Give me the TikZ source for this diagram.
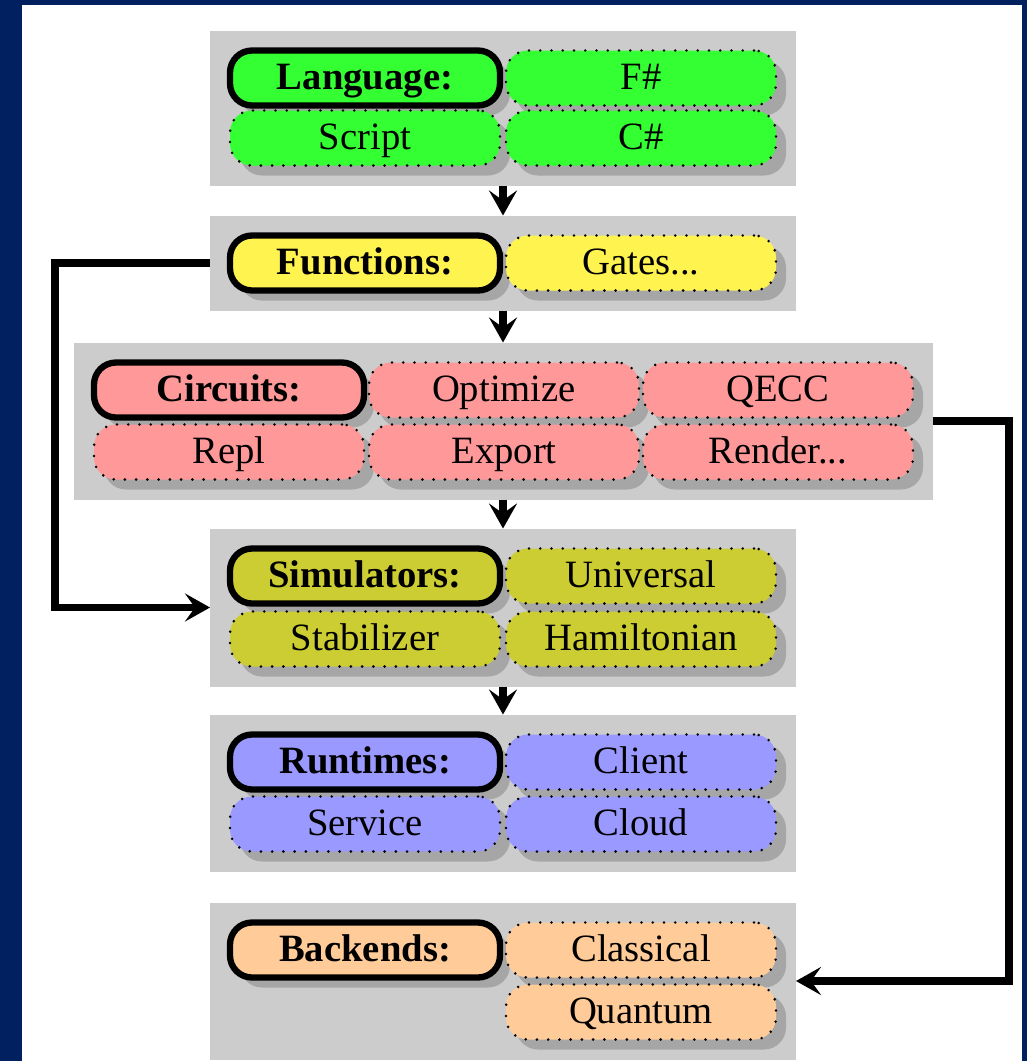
\documentclass[tikz,border=0pt]{standalone}
\usepackage{fontspec}
\setmainfont{Liberation Serif}
\usetikzlibrary{arrows.meta,shadows,fit,backgrounds}
\definecolor{slideblue}{RGB}{0,32,96}
\definecolor{langgreen}{RGB}{51,255,51}
\definecolor{funyellow}{RGB}{255,243,80}
\definecolor{circred}{RGB}{255,153,153}
\definecolor{simolive}{RGB}{204,204,51}
\definecolor{runblue}{RGB}{153,153,255}
\definecolor{backorange}{RGB}{255,204,153}
\begin{document}
\begin{tikzpicture}[x=0.1mm,y=-0.1mm,inner sep=0pt,outer sep=0pt,font=\fontsize{11}{13}\selectfont,
cell/.style={rectangle,rounded corners=2.2mm,minimum width=2.7cm,minimum height=0.55cm,
  text height=0.78em,text depth=0.12em,
  drop shadow={shadow xshift=1mm,shadow yshift=-1mm,fill=gray!70,opacity=1}},
headcell/.style={cell,draw,line width=1.8pt,font=\fontsize{11}{13}\selectfont\bfseries},
itemcell/.style={cell,draw,line width=0.8pt,dash pattern=on 0pt off 3.2pt,line cap=round},
layer/.style={fill=gray!40,inner sep=2mm},
link/.style={line width=2pt,-{Stealth[length=2.5mm,width=2.8mm,inset=1mm]}}]
\begin{scope}[on background layer]
\fill[slideblue] (0,0) rectangle (1027,1061);
\fill[white] (22,5) rectangle (1022,1061);
\end{scope}
% language
\draw (365,78) node[headcell,fill=langgreen] (lang) {Language:};
\draw (641,78) node[itemcell,fill=langgreen] (fsharp) {F\#};
\draw (365,138) node[itemcell,fill=langgreen] (script) {Script};
\draw (641,138) node[itemcell,fill=langgreen] (csharp) {C\#};
% functions
\draw (365,263) node[headcell,fill=funyellow] (fun) {Functions:};
\draw (641,263) node[itemcell,fill=funyellow] (gates) {Gates...};
% circuits
\draw (229,390) node[headcell,fill=circred] (circ) {Circuits:};
\draw (504,390) node[itemcell,fill=circred] (optimize) {Optimize};
\draw (778,390) node[itemcell,fill=circred] (qecc) {QECC};
\draw (229,452) node[itemcell,fill=circred] (repl) {Repl};
\draw (504,452) node[itemcell,fill=circred] (export) {Export};
\draw (778,452) node[itemcell,fill=circred] (render) {Render...};
% simulators
\draw (365,576) node[headcell,fill=simolive] (sim) {Simulators:};
\draw (641,576) node[itemcell,fill=simolive] (universal) {Universal};
\draw (365,639) node[itemcell,fill=simolive] (stab) {Stabilizer};
\draw (641,639) node[itemcell,fill=simolive] (hamil) {Hamiltonian};
% runtimes
\draw (365,762) node[headcell,fill=runblue] (run) {Runtimes:};
\draw (641,762) node[itemcell,fill=runblue] (client) {Client};
\draw (365,824) node[itemcell,fill=runblue] (service) {Service};
\draw (641,824) node[itemcell,fill=runblue] (cloud) {Cloud};
% backends
\draw (365,950) node[headcell,fill=backorange] (back) {Backends:};
\draw (641,950) node[itemcell,fill=backorange] (classical) {Classical};
\draw (641,1012) node[itemcell,fill=backorange] (quantum) {Quantum};
\begin{scope}[on background layer]
\node[layer,fit=(lang)(fsharp)(script)(csharp)] (langbox) {};
\node[layer,fit=(fun)(gates)] (funbox) {};
\node[layer,fit=(circ)(qecc)(repl)(render)] (circbox) {};
\node[layer,fit=(sim)(universal)(stab)(hamil)] (simbox) {};
\node[layer,fit=(run)(client)(service)(cloud)] (runbox) {};
\node[layer,fit=(back)(classical)(quantum)] (backbox) {};
\end{scope}
\draw[link] (langbox.south) -- (langbox.south |- funbox.north);
\draw[link] (funbox.south) -- (funbox.south |- circbox.north);
\draw[link] (funbox.south |- circbox.south) -- (funbox.south |- simbox.north);
\draw[link] (simbox.south) -- (simbox.south |- runbox.north);
\draw[link] (funbox.west) -- ++(-155,0) |- (simbox.west);
\draw[link] (circbox.east) -- ++(76,0) |- (backbox.east);
\end{tikzpicture}
\end{document}
